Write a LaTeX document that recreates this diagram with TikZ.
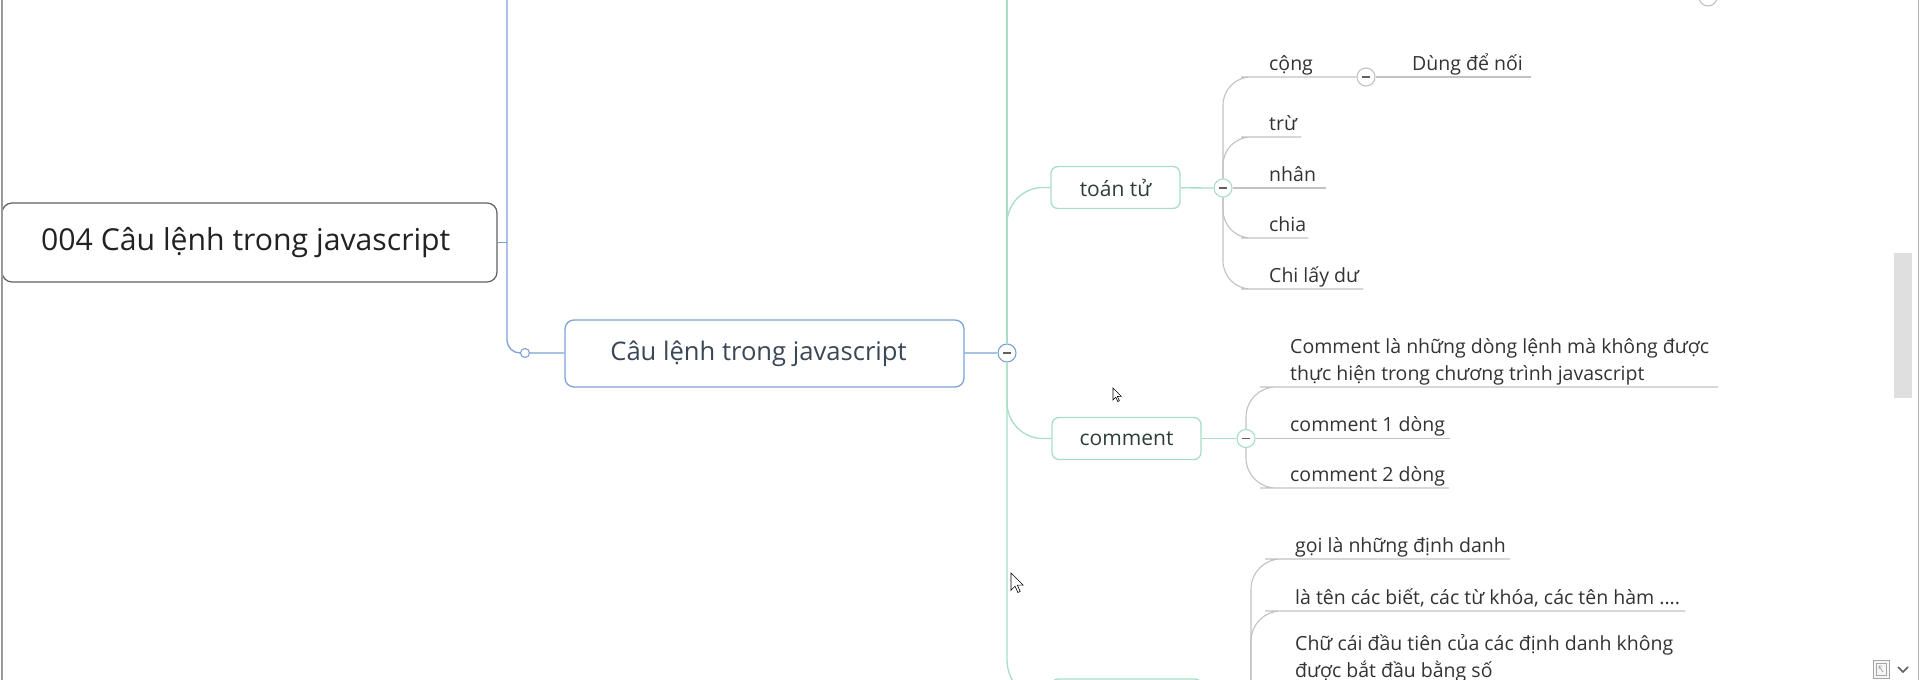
\documentclass[tikz,border=0pt]{standalone}
\usepackage{fontspec}
\setmainfont{Open Sans}
\usetikzlibrary{calc}
\definecolor{bluel}{HTML}{7BA3D8}
\definecolor{greenl}{HTML}{A8DEC6}
\definecolor{grayl}{HTML}{C2C2C2}
\definecolor{txt}{HTML}{333333}
\definecolor{roottxt}{HTML}{222222}
\definecolor{maintxt}{HTML}{3A4755}
\definecolor{subtxt}{HTML}{2F3F38}
\begin{document}
\begin{tikzpicture}[x=1pt,y=-1pt,
  rootbox/.style={draw=gray!75!black, line width=1.2pt, rounded corners=10pt, fill=white,
    minimum width=495pt, minimum height=79pt, inner sep=0pt, text=roottxt,
    font=\fontsize{30.2}{34}\selectfont},
  mainbox/.style={draw=bluel, line width=1.3pt, rounded corners=9pt, fill=white,
    minimum width=399pt, minimum height=67pt, inner sep=0pt, text=maintxt,
    font=\fontsize{25.6}{30}\selectfont},
  subbox/.style={draw=greenl, line width=1.3pt, rounded corners=7pt, fill=white,
    minimum height=42pt, inner sep=0pt, text=subtxt,
    font=\fontsize{21}{26}\selectfont},
  leaf/.style={anchor=south west, inner sep=0pt, text depth=6.5pt, align=left, text=txt,
    font=\fontsize{19.5}{27}\selectfont},
  tog/.style={circle, draw=#1, fill=white, line width=1.1pt, minimum size=18pt, inner sep=0pt,
    path picture={\draw[line width=1.8pt, color=gray!75!black]
      ([xshift=-4pt]path picture bounding box.center) -- ([xshift=4pt]path picture bounding box.center);}},
  dot/.style={circle, draw=bluel, fill=white, line width=1.1pt, minimum size=9pt, inner sep=0pt},
  bline/.style={draw=bluel, line width=1.3pt},
  gline/.style={draw=greenl, line width=1.3pt},
  lline/.style={draw=grayl, line width=1.1pt},
  cursor/.style={fill=white, draw=black, line width=0.6pt, line join=miter}
]
\useasboundingbox (0,0) rectangle (1920,680);
\clip (0,0) rectangle (1920,680);
\fill[white] (0,0) rectangle (1920,680);

% ---- nodes ----
\node[rootbox] (root) at (249.5,242.5) {004 Câu lệnh trong javascript\kern7.5pt};
\node[dot] (c1) at (525,353) {};
\node[mainbox] (main) at (764.5,353.5) {Câu lệnh trong javascript\kern12pt};
\node[tog=bluel] (c2) at (1007,353) {};

\node[subbox, minimum width=129pt] (toan) at (1115.5,187.5) {toán tử};
\node[subbox, minimum width=149pt] (comment) at (1126.5,438.5) {comment};
\node[subbox, minimum width=151pt] (third) at (1126.5,700) {};

\node[tog=greenl] (c3) at (1223,188) {};
\node[tog=greenl] (c4) at (1246,438.5) {};
\node[tog=greenl] (c6) at (1251,700) {};
\node[tog=grayl] (c5) at (1366,77) {};
\node[circle, draw=grayl, fill=white, line width=1.1pt, minimum size=18pt] (ctr) at (1708,-3) {};

% leaves of toan tu
\node[leaf] (cong) at (1269,77) {cộng};
\node[leaf] (dung) at (1412,77) {Dùng để nối};
\node[leaf] (tru) at (1269,137) {trừ};
\node[leaf] (nhan) at (1269,188) {nhân};
\node[leaf] (chia) at (1269,238) {chia};
\node[leaf] (chi) at (1269,289) {Chi lấy dư};

% leaves of comment
\node[leaf] (cm1) at (1290,387) {Comment là những dòng lệnh mà không được\\thực hiện trong chương trình javascript};
\node[leaf] (cm2) at (1290,438.5) {comment 1 dòng};
\node[leaf] (cm3) at (1290,488) {comment 2 dòng};

% leaves of third
\node[leaf] (d1) at (1295,559) {gọi là những định danh};
\node[leaf] (d2) at (1295,611) {là tên các biết, các từ khóa, các tên hàm ....};
\node[leaf] (d3) at (1295,684) {Chữ cái đầu tiên của các định danh không\\được bắt đầu bằng số};

\coordinate (btop) at (507,-5);
\coordinate (bj) at (507,242.5);
\coordinate (gtop) at (1007,-5);

% ---- connectors ----
\draw[bline] (root) -- (bj);
\draw[bline, rounded corners=13pt] (btop) |- (c1);
\draw[bline] (c1) -- (main);
\draw[bline] (main) -- (c2);

\draw[gline] (c2) -- (gtop);
\draw[gline, rounded corners=36pt] (c2) |- (toan);
\draw[gline, rounded corners=36pt] (c2) |- (comment);
\draw[gline, rounded corners=40pt] (c2) |- (third);
\draw[gline] (toan) -- (c3);
\draw[gline] (comment) -- (c4);
\draw[gline] (third) -- (c6);

\draw[lline, rounded corners=28pt] (c3) |- (cong.south west) -- (c5);
\draw[lline] (c5) -- (dung.south west) -- ([xshift=8pt]dung.south east);
\draw[lline, rounded corners=28pt] (c3) |- (tru.south west) -- ([xshift=4pt]tru.south east);
\draw[lline] (c3) -- (nhan.south west) -- ([xshift=10pt]nhan.south east);
\draw[lline, rounded corners=28pt] (c3) |- (chia.south west) -- ([xshift=2pt]chia.south east);
\draw[lline, rounded corners=28pt] (c3) |- (chi.south west) -- ([xshift=4pt]chi.south east);

\draw[lline, rounded corners=30pt] (c4) |- (cm1.south west) -- ([xshift=9pt]cm1.south east);
\draw[lline] (c4) -- (cm2.south west) -- ([xshift=5pt]cm2.south east);
\draw[lline, rounded corners=30pt] (c4) |- (cm3.south west) -- ([xshift=4pt]cm3.south east);

\draw[lline, rounded corners=30pt] (c6) |- (d1.south west) -- ([xshift=4pt]d1.south east);
\draw[lline, rounded corners=30pt] (c6) |- (d2.south west) -- ([xshift=5pt]d2.south east);
\draw[lline, rounded corners=30pt] (c6) |- (d3.south west) -- ([xshift=5pt]d3.south east);

% ---- window chrome ----
\draw[line width=2pt, color=gray!80] (2,0) -- (2,680);
\draw[line width=1.5pt, color=gray!60] (1918.5,0) -- (1918.5,680);
\fill[gray!25] (1894,253) rectangle (1912,398);
\draw[gray!70, fill=gray!8, line width=0.8pt] (1873,660) rectangle (1889,678);
\draw[gray!70, line width=0.8pt] (1876,663) rectangle (1886,675);
\draw[gray!70, line width=0.8pt] (1883,672) -- (1879,666) (1879,666) -- (1882,666) (1879,666) -- (1879,669);
\draw[gray!75!black, line width=1.6pt] (1898,667) -- (1903,672) -- (1908,667);

% ---- mouse cursors ----
\draw[cursor, shift={(1113,388)}, scale=0.8] (0,0) -- (0,15) -- (3.5,11.5) -- (6,17) -- (8,16) -- (5.5,10.5) -- (10.5,10.5) -- cycle;
\draw[cursor, shift={(1011,573)}, scale=1.15] (0,0) -- (0,15) -- (3.5,11.5) -- (6,17) -- (8,16) -- (5.5,10.5) -- (10.5,10.5) -- cycle;
\end{tikzpicture}
\end{document}
